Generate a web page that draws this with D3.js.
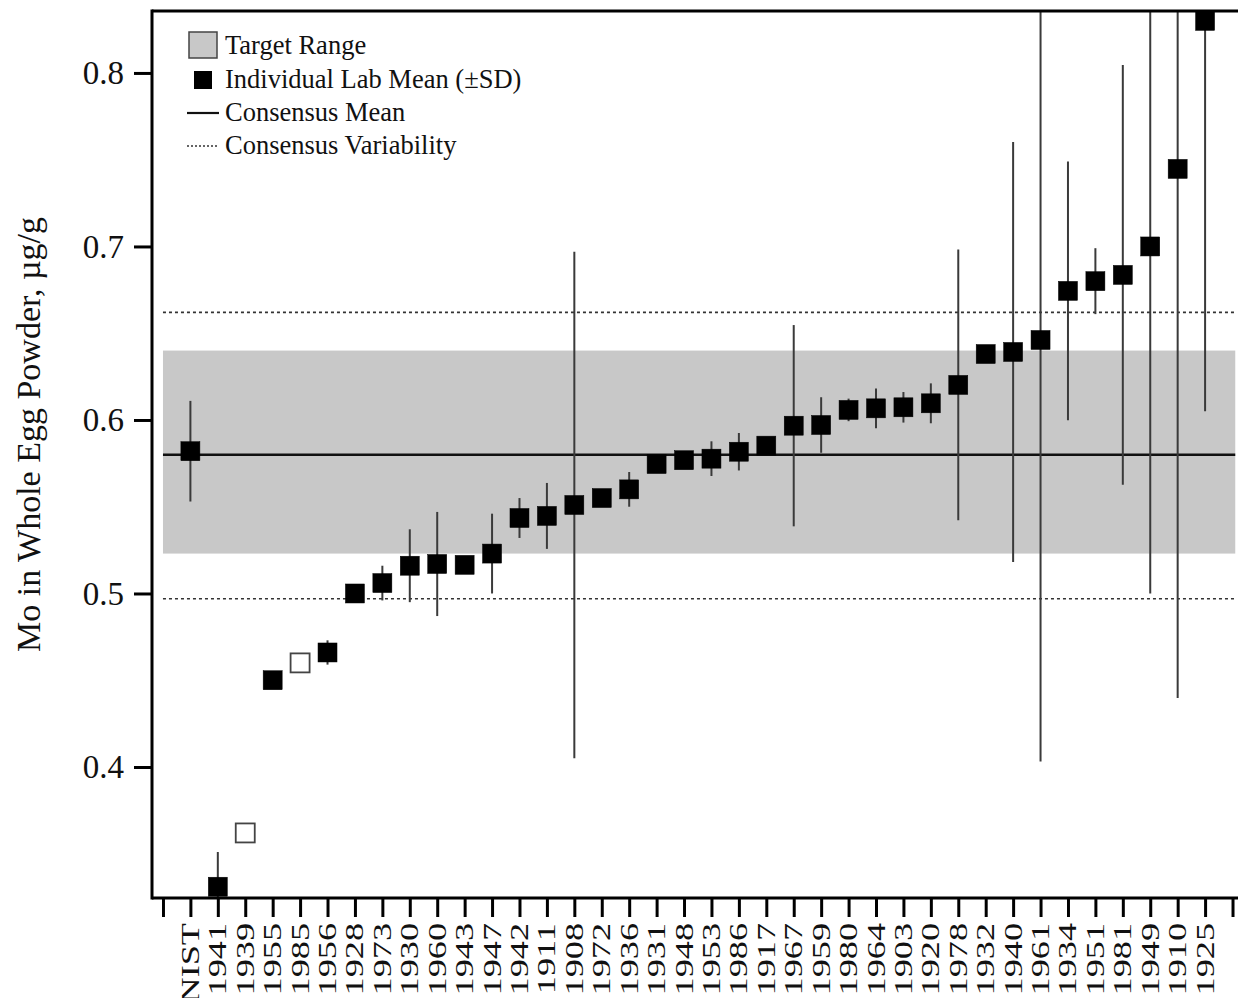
<!DOCTYPE html>
<html>
<head>
<meta charset="utf-8">
<script src="https://cdn.jsdelivr.net/npm/d3@7"></script>
<style>
  body { margin: 0; background: #fff; }
  svg text { font-family: "Liberation Serif", "Times New Roman", serif; fill: #111; }
</style>
</head>
<body>
<svg id="chart" width="1238" height="998"></svg>
<script>
// lab codes, in plotted order
var labs = ["NIST","1941","1939","1955","1985","1956","1928","1973","1930","1960","1943","1947",
    "1942","1911","1908","1972","1936","1931","1948","1953","1986","1917","1967","1959","1980",
    "1964","1903","1920","1978","1932","1940","1961","1934","1951","1981","1949","1910","1925"];

// lab means (ug/g)
var means = [0.582,0.331,0.362,0.450,0.460,0.466,0.500,0.506,0.516,0.517,0.5165,0.523,
    0.5435,0.5447,0.551,0.555,0.560,0.5746,0.5768,0.5777,0.5817,0.5852,0.5967,0.5971,0.6058,
    0.6067,0.6073,0.6096,0.6202,0.638,0.6392,0.6461,0.6744,0.680,0.6836,0.700,0.7447,0.830];

// standard deviations
var sds = [0.029,0.020,0,0,0,0.007,0,0.010,0.021,0.030,0.004,0.023,
    0.0115,0.019,0.146,0.002,0.010,0.002,0.003,0.010,0.0108,0,0.058,0.016,0.0065,
    0.0115,0.0088,0.0115,0.078,0,0.121,0.243,0.0745,0.019,0.121,0.200,0.305,0.225];

// labs drawn as open squares
var openLabs = ["1939","1985"];

// consensus values
var consensusMean = 0.580;
var targetRange = [0.523, 0.640];
var variability = [0.497, 0.662];

var yTicks = [0.4, 0.5, 0.6, 0.7, 0.8];

var legendItems = ["Target Range", "Individual Lab Mean (\u00B1SD)", "Consensus Mean", "Consensus Variability"];

var svg = d3.select("#chart");
var pLeft = 152, pRight = 1238, pTop = 11, pBottom = 898;

var x = d3.scaleLinear().domain([-1.4, 38.2]).range([pLeft, pRight]);
var y = d3.scaleLinear().domain([0.3245, 0.8357]).range([pBottom, pTop]);

var data = labs.map(function(d, i) {
    return {lab: d, i: i, mean: means[i], sd: sds[i], open: openLabs.indexOf(d) >= 0};
});

svg.append("defs").append("clipPath").attr("id", "plotclip")
    .append("rect")
    .attr("x", pLeft).attr("y", pTop)
    .attr("width", pRight - pLeft).attr("height", pBottom - pTop);

var plot = svg.append("g").attr("clip-path", "url(#plotclip)");

//target range band
plot.append("rect")
    .attr("x", x(-1))
    .attr("width", x(38.1) - x(-1))
    .attr("y", y(targetRange[1]))
    .attr("height", y(targetRange[0]) - y(targetRange[1]))
    .attr("fill", "#c8c8c8");

//consensus variability lines
plot.selectAll(".var")
    .data(variability)
    .enter().append("line")
    .attr("x1", x(-1)).attr("x2", x(38.1))
    .attr("y1", function(d) { return y(d); })
    .attr("y2", function(d) { return y(d); })
    .attr("stroke", "#333")
    .attr("stroke-width", 1.6)
    .attr("stroke-dasharray", "3,3");

//consensus mean line
plot.append("line")
    .attr("x1", x(-1)).attr("x2", x(38.1))
    .attr("y1", y(consensusMean)).attr("y2", y(consensusMean))
    .attr("stroke", "#111")
    .attr("stroke-width", 2.5);

//error bars
plot.selectAll(".err")
    .data(data.filter(function(d) { return d.sd > 0; }))
    .enter().append("line")
    .attr("x1", function(d) { return x(d.i); })
    .attr("x2", function(d) { return x(d.i); })
    .attr("y1", function(d) { return y(d.mean + d.sd); })
    .attr("y2", function(d) { return y(d.mean - d.sd); })
    .attr("stroke", "#3a3a3a")
    .attr("stroke-width", 2);

//lab means
var sq = 19;
plot.selectAll(".pt")
    .data(data)
    .enter().append("rect")
    .attr("x", function(d) { return x(d.i) - sq / 2; })
    .attr("y", function(d) { return y(d.mean) - sq / 2; })
    .attr("width", sq).attr("height", sq)
    .attr("fill", function(d) { return d.open ? "#fff" : "#000"; })
    .attr("stroke", function(d) { return d.open ? "#444" : "#000"; })
    .attr("stroke-width", function(d) { return d.open ? 1.8 : 0.5; });

//y axis
var yAxis = d3.axisLeft(y).tickValues(yTicks).tickSize(18).tickPadding(10)
    .tickFormat(d3.format(".1f"));
var gy = svg.append("g").attr("transform", "translate(" + pLeft + ",0)").call(yAxis);
gy.select(".domain").remove();
gy.selectAll(".tick line").attr("stroke", "#000").attr("stroke-width", 3);
gy.selectAll(".tick text")
    .style("font-family", "Liberation Serif, serif")
    .style("font-size", "33px")
    .attr("fill", "#111");

//x axis
var xAxis = d3.axisBottom(x).tickValues(d3.range(-1, 39)).tickSize(19)
    .tickFormat(function(i) { return labs[i] || ""; });
var gx = svg.append("g").attr("transform", "translate(0," + pBottom + ")").call(xAxis);
gx.select(".domain").remove();
gx.selectAll(".tick line").attr("stroke", "#000").attr("stroke-width", 3);
gx.selectAll(".tick text")
    .attr("y", 0).attr("dy", null)
    .attr("text-anchor", "end")
    .attr("transform", "translate(8,25) rotate(-90) scale(1.45,1)")
    .style("font-family", "Liberation Serif, serif")
    .style("font-size", "25px")
    .attr("fill", "#111");

//frame
svg.append("line").attr("x1", pLeft).attr("x2", pLeft).attr("y1", pTop - 1.5).attr("y2", pBottom + 1.5)
    .attr("stroke", "#000").attr("stroke-width", 3);
svg.append("line").attr("x1", pLeft).attr("x2", pRight).attr("y1", pTop).attr("y2", pTop)
    .attr("stroke", "#000").attr("stroke-width", 3);
svg.append("line").attr("x1", pLeft).attr("x2", pRight).attr("y1", pBottom).attr("y2", pBottom)
    .attr("stroke", "#000").attr("stroke-width", 3);

//y title
svg.append("text")
    .attr("transform", "translate(40," + ((pTop + pBottom) / 2 - 20) + ") rotate(-90)")
    .attr("text-anchor", "middle")
    .style("font-size", "34px")
    .text("Mo in Whole Egg Powder, \u00B5g/g");

//legend
var legend = svg.append("g").attr("class", "legend");
var rowY = [54, 88, 121, 154];

legend.append("rect")
    .attr("x", 189).attr("y", 32).attr("width", 28).attr("height", 26)
    .attr("fill", "#c8c8c8").attr("stroke", "#444").attr("stroke-width", 1.5);
legend.append("rect")
    .attr("x", 194).attr("y", 71).attr("width", 18).attr("height", 18)
    .attr("fill", "#000");
legend.append("line")
    .attr("x1", 187).attr("x2", 219).attr("y1", 113).attr("y2", 113)
    .attr("stroke", "#111").attr("stroke-width", 2.2);
legend.append("line")
    .attr("x1", 187).attr("x2", 219).attr("y1", 146).attr("y2", 146)
    .attr("stroke", "#333").attr("stroke-width", 1.6).attr("stroke-dasharray", "2,2");

legend.selectAll(".lt")
    .data(legendItems)
    .enter().append("text")
    .attr("x", 225)
    .attr("y", function(d, i) { return rowY[i]; })
    .style("font-size", "26.5px")
    .text(function(d) { return d; });
</script>
</body>
</html>
